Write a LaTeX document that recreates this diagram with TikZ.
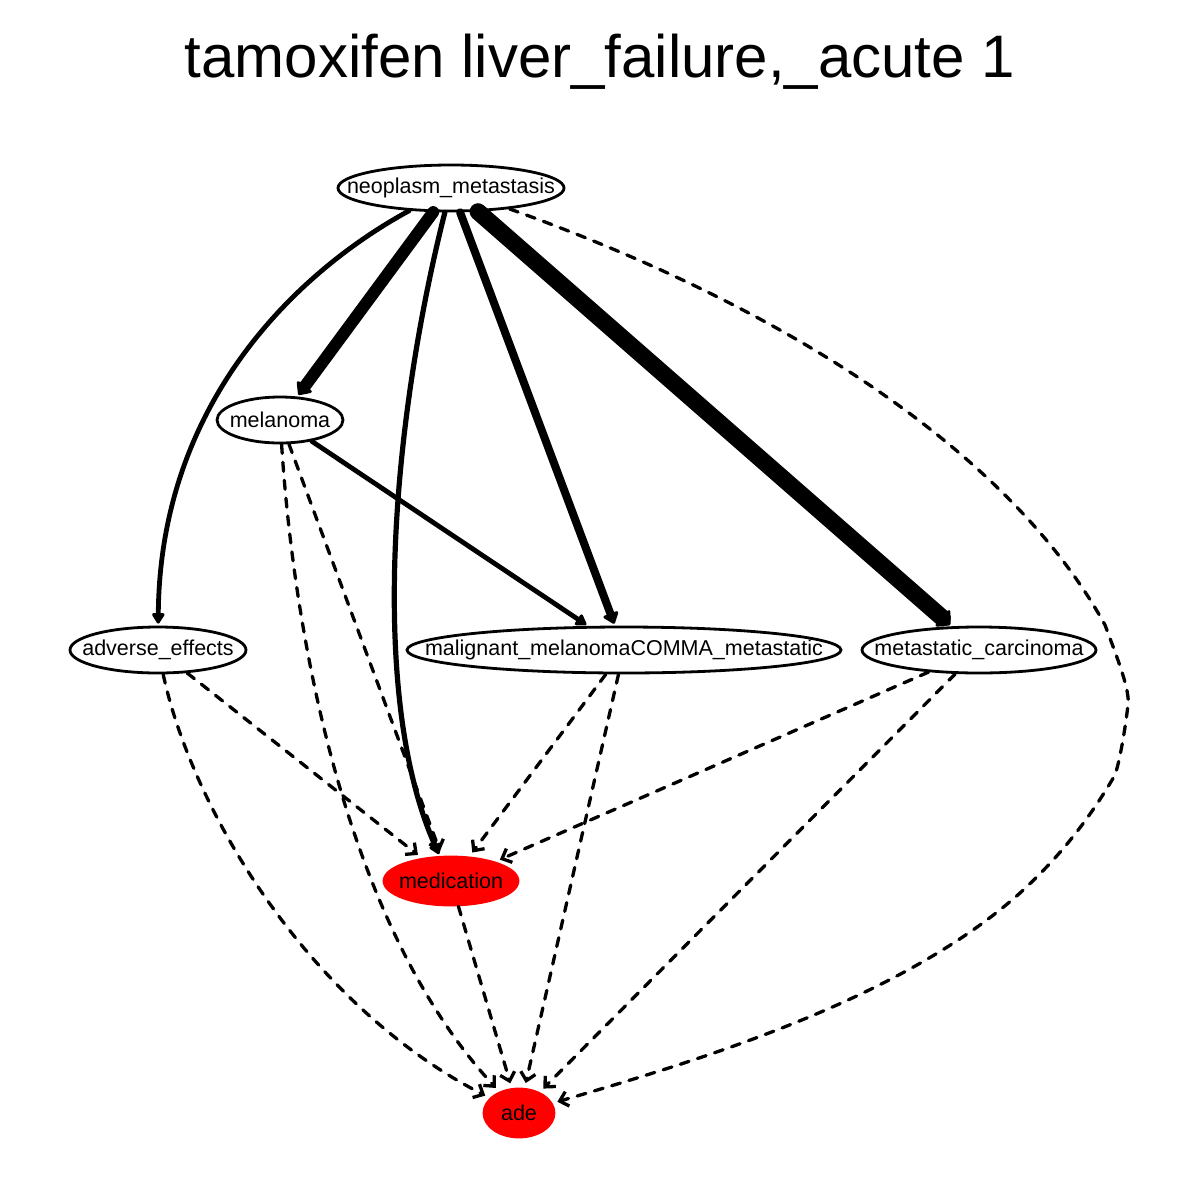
\documentclass[tikz,border=0pt]{standalone}
\usepackage{fontspec}
\setmainfont{Liberation Sans}
\usetikzlibrary{shapes.geometric, arrows.meta}

% label of zero width, so that the ellipse takes its size from the style
\newcommand{\vlabel}[1]{\makebox[0pt]{#1}}

\tikzset{
  vert/.style={ellipse, draw, line width=2.8pt, inner sep=0pt, minimum height=46pt,
    font=\fontsize{21.5}{24}\selectfont},
  redvert/.style={vert, draw=red, fill=red},
  strong/.style={line cap=round, line join=round, shorten >=2pt,
    -{Triangle[round, length=12pt, width=#1]}},
  weak/.style={line width=3.3pt, line cap=round, dash pattern=on 9pt off 9pt, shorten >=5pt,
    -{Straight Barb[length=8pt, width=15pt, line width=3.3pt]}}
}

\begin{document}
\begin{tikzpicture}[x=1pt, y=-1pt]
    \useasboundingbox (0,0) rectangle (1200,1200);
    % Title
    \node (title) at (600,62) {\fontsize{60}{70}\selectfont tamoxifen liver\_failure,\_acute 1};

    % Top: the source
    \node[vert, minimum width=226pt] (neo) at (451,188) {\vlabel{neoplasm\_metastasis}};
    % Middle rows
    \node[vert, minimum width=126pt] (mel) at (280,420) {\vlabel{melanoma}};
    \node[vert, minimum width=176pt] (adv) at (158,650) {\vlabel{adverse\_effects}};
    \node[vert, minimum width=434pt] (mal) at (624,650) {\vlabel{malignant\_melanomaCOMMA\_metastatic}};
    \node[vert, minimum width=234pt] (metc) at (979,650) {\vlabel{metastatic\_carcinoma}};
    % Bottom: the red ones
    \node[redvert, minimum width=134pt, minimum height=48pt] (med) at (451,881) {\vlabel{medication}};
    \node[redvert, minimum width=70pt, minimum height=48pt] (ade) at (519,1113) {\vlabel{ade}};

    % Solid edges out of the source
    \draw[strong=14pt, line width=4.8pt] (neo) .. controls (300,270) and (160,400) .. (adv);
    \draw[strong=21pt, line width=12pt] (neo) -- (mel);
    \draw[strong=14pt, line width=5.2pt] (neo) .. controls (390,430) and (370,700) .. (med);
    \draw[strong=18pt, line width=8pt] (neo) -- (mal);
    \draw[strong=25pt, line width=17pt] (neo) -- (metc);
    \draw[strong=14pt, line width=4.8pt] (mel) -- (mal);

    % Dashed edges
    \draw[weak] (neo) .. controls (820,320) and (1020,470) .. (1105,625)
        .. controls (1118,660) and (1130,690) .. (1128,705)
        .. controls (1125,730) and (1120,760) .. (1115,775)
        .. controls (1080,835) and (1045,870) .. (1020,893)
        .. controls (900,1000) and (700,1060) .. (ade);
    \draw[weak] (mel) -- (med);
    \draw[weak] (mel) .. controls (295,650) and (350,930) .. (ade);
    \draw[weak] (adv) -- (med);
    \draw[weak] (adv) .. controls (190,800) and (300,1000) .. (ade);
    \draw[weak] (mal) -- (med);
    \draw[weak] (mal) -- (ade);
    \draw[weak] (metc) -- (med);
    \draw[weak] (metc) -- (ade);
    \draw[weak] (med) -- (ade);
\end{tikzpicture}
\end{document}
